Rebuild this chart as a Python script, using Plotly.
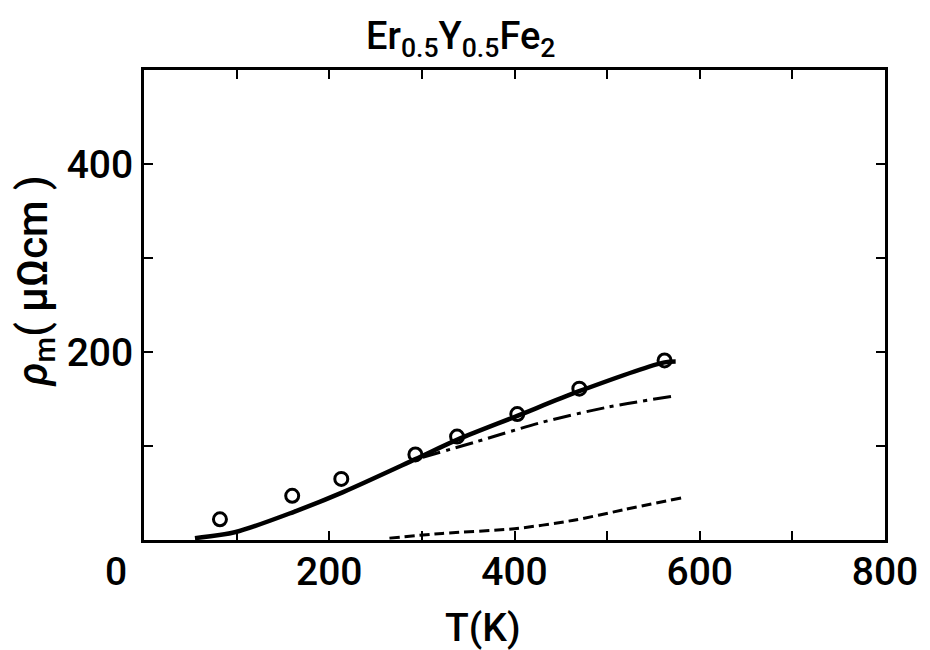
import plotly.graph_objects as go

# measured data points (open circles)
T_data = [82, 160, 213, 293, 338, 403, 470, 562]
rho_data = [22, 47, 65, 91, 110, 134, 161, 191]

# total calculated curve (solid)
T_total = [55, 99, 162, 215, 293, 339, 403, 469, 562, 574]
rho_total = [2, 8.5, 30, 51, 86, 107, 132, 158, 189, 190]

# dash-dot component
T_dd = [301, 357, 429, 499, 571]
rho_dd = [88, 104, 125, 141, 153]

# dashed component
T_dash = [265, 322, 400, 464, 517, 581]
rho_dash = [2, 7, 12, 21, 32, 45]

x_tickvals = [0, 100, 200, 300, 400, 500, 600, 700, 800]
x_ticktext = ["", "", "200", "", "400", "", "600", "", "800"]
y_tickvals = [0, 100, 200, 300, 400, 500]
y_ticktext = ["", "", "200", "", "400", ""]

FONT = "Roboto"
FS = 39

def f(size=FS):
    return dict(family=FONT, size=size, color="black", weight=500)

fig = go.Figure()
fig.add_trace(go.Scatter(x=T_total, y=rho_total, mode="lines",
                         line=dict(color="black", width=4.5, shape="spline", smoothing=0.8), showlegend=False))
fig.add_trace(go.Scatter(x=T_dd, y=rho_dd, mode="lines",
                         line=dict(color="black", width=3, dash="18px,6px,4px,6px", shape="spline", smoothing=0.8),
                         showlegend=False))
fig.add_trace(go.Scatter(x=T_dash, y=rho_dash, mode="lines",
                         line=dict(color="black", width=3, dash="10px,5px", shape="spline", smoothing=0.8),
                         showlegend=False))
fig.add_trace(go.Scatter(x=T_data, y=rho_data, mode="markers",
                         marker=dict(symbol="circle-open", size=13, color="black", line=dict(width=3)),
                         showlegend=False))

axis_common = dict(showgrid=False, zeroline=False, showline=True, linecolor="black", linewidth=3,
                   mirror="allticks", ticks="inside", ticklen=9, tickwidth=2, tickcolor="black",
                   tickfont=f())

fig.update_xaxes(range=[0, 800], tickvals=x_tickvals, ticktext=x_ticktext,
                 ticklabelstandoff=-5, **axis_common)
fig.update_yaxes(range=[0, 500], tickvals=y_tickvals, ticktext=y_ticktext,
                 ticklabelstandoff=0, **axis_common)

fig.update_layout(
    width=930, height=650,
    margin=dict(l=144, r=34, t=70, b=110),
    paper_bgcolor="white", plot_bgcolor="white",
    annotations=[
        dict(text="Er<sub>0.5</sub>Y<sub>0.5</sub>Fe<sub>2</sub>", xref="paper", yref="paper",
             x=0.427, y=1.0, yshift=32, xanchor="center", yanchor="middle", showarrow=False,
             font=f(38)),
        dict(text="T(K)", xref="paper", yref="paper", x=0.457, y=0, yshift=-88,
             xanchor="center", yanchor="middle", showarrow=False,
             font=f()),
        dict(text="0", xref="x", yref="paper", x=0, y=0, xshift=-28, yshift=-32,
             xanchor="center", yanchor="middle", showarrow=False,
             font=f()),
        dict(text="<i>ρ</i><sub>m</sub>( μΩcm )", xref="paper", yref="paper", x=0, y=0.55,
             xshift=-109, xanchor="center", yanchor="middle", textangle=-90, showarrow=False,
             font=f(42)),
    ],
)

fig.write_html("out.html")
